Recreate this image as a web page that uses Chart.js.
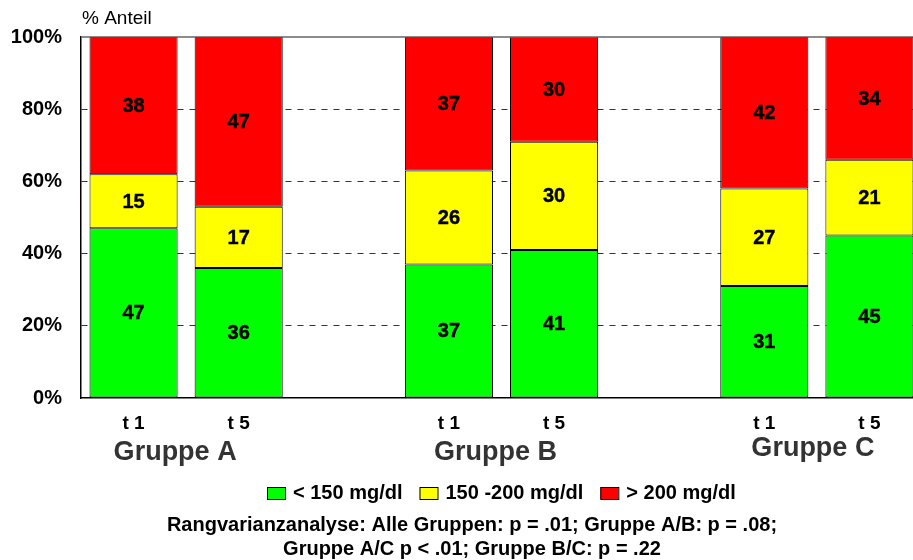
<!DOCTYPE html>
<html>
<head>
<meta charset="utf-8">
<script src="https://cdn.jsdelivr.net/npm/chart.js@4.4.1/dist/chart.umd.min.js"></script>
<style>
  html, body { margin: 0; padding: 0; background: #fff; overflow: hidden; }
  #wrap { width: 913px; height: 560px; position: relative; overflow: hidden; }
  #c { display: block; }
</style>
</head>
<body>
<div id="wrap"><canvas id="c" width="922" height="560"></canvas></div>
<script>
// Category slots: two time points per group, with an empty slot between groups
const timepoints = ['t 1', 't 5', '', 't 1', 't 5', '', 't 1', 't 5'];
const groups = ['Gruppe A', 'Gruppe B', 'Gruppe C'];
const groupSlots = [[0, 1], [3, 4], [6, 7]];
const seriesNames = ['< 150 mg/dl', '150 -200 mg/dl', '> 200 mg/dl'];
const below150 = [47, 36, null, 37, 41, null, 31, 45];
const from150to200 = [15, 17, null, 26, 30, null, 27, 21];
const above200 = [38, 47, null, 37, 30, null, 42, 34];
const yTicks = [0, 20, 40, 60, 80, 100];
const yTitle = '% Anteil';
const footnote = [
  'Rangvarianzanalyse: Alle Gruppen: p = .01; Gruppe A/B: p = .08;',
  'Gruppe A/C p < .01; Gruppe B/C: p = .22'
];

const FONT = "'Liberation Sans', Arial, Helvetica, sans-serif";
const colors = ['#00ff00', '#ffff00', '#ff0000'];
Chart.defaults.font.family = FONT;
Chart.defaults.color = '#000';

// Segment values written inside each bar
const valueLabels = {
  id: 'valueLabels',
  afterDatasetsDraw(chart) {
    const ctx = chart.ctx, ca = chart.chartArea;
    ctx.save();
    ctx.font = 'bold 20px ' + FONT;
    ctx.fillStyle = '#000';
    ctx.strokeStyle = '#000';
    ctx.lineWidth = 0.4;
    ctx.textAlign = 'center';
    ctx.textBaseline = 'middle';
    chart.data.datasets.forEach((ds, di) => {
      chart.getDatasetMeta(di).data.forEach((el, i) => {
        const v = ds.data[i];
        if (v == null) return;
        const top = Math.max(el.y, ca.top);
        const bot = Math.min(el.base, ca.bottom);
        const y = (top + bot) / 2 + 1;
        ctx.fillText(String(v), el.x, y);
        ctx.strokeText(String(v), el.x, y);
      });
    });
    ctx.restore();
  }
};

// Axis title, top frame line, group names, legend and footnote
const decorations = {
  id: 'decorations',
  afterDraw(chart) {
    const ctx = chart.ctx, ca = chart.chartArea, xs = chart.scales.x;
    ctx.save();

    // top frame line
    ctx.strokeStyle = '#666';
    ctx.lineWidth = 1.5;
    ctx.beginPath();
    ctx.moveTo(ca.left, ca.top);
    ctx.lineTo(ca.right, ca.top);
    ctx.stroke();

    // y axis title
    ctx.fillStyle = '#000';
    ctx.font = '19px ' + FONT;
    ctx.textAlign = 'left';
    ctx.textBaseline = 'middle';
    ctx.fillText(yTitle, 82, 19);

    // group names
    const shifts = [-11, -6, -4];
    const ys = [453, 453, 449];
    ctx.font = 'bold 27px ' + FONT;
    ctx.fillStyle = '#333';
    ctx.textAlign = 'center';
    groups.forEach((g, k) => {
      const [a, b] = groupSlots[k];
      const cx = (xs.getPixelForValue(a) + xs.getPixelForValue(b)) / 2 + shifts[k];
      ctx.fillText(g, cx, ys[k]);
    });

    // legend
    ctx.font = 'bold 20px ' + FONT;
    ctx.textAlign = 'left';
    const boxW = 18, boxH = 12, gapBox = 8, gapItem = 17;
    let x = 267;
    const ly = 493;
    chart.data.datasets.forEach(d => {
      ctx.fillStyle = d.backgroundColor;
      ctx.fillRect(x, ly - boxH / 2, boxW, boxH);
      ctx.strokeStyle = '#000';
      ctx.lineWidth = 1;
      ctx.strokeRect(x + 0.5, ly - boxH / 2 + 0.5, boxW, boxH);
      ctx.fillStyle = '#000';
      ctx.fillText(d.label, x + boxW + gapBox, ly);
      x += boxW + gapBox + ctx.measureText(d.label).width + gapItem;
    });

    // footnote
    ctx.textAlign = 'center';
    ctx.font = 'bold 20px ' + FONT;
    ctx.fillText(footnote[0], 472, 525);
    ctx.fillText(footnote[1], 472, 549);

    ctx.restore();
  }
};

new Chart(document.getElementById('c'), {
  type: 'bar',
  data: {
    labels: timepoints,
    datasets: [
      { label: seriesNames[0], data: below150, backgroundColor: colors[0] },
      { label: seriesNames[1], data: from150to200, backgroundColor: colors[1] },
      { label: seriesNames[2], data: above200, backgroundColor: colors[2] }
    ].map(d => Object.assign(d, {
      borderColor: '#000',
      borderWidth: 1,
      borderSkipped: false,
      barPercentage: 0.838,
      categoryPercentage: 1
    }))
  },
  options: {
    responsive: false,
    animation: false,
    devicePixelRatio: 1,
    layout: { padding: { top: 37, right: 0, left: 0, bottom: 0 } },
    plugins: {
      legend: { display: false },
      tooltip: { enabled: false },
      title: { display: false }
    },
    scales: {
      x: {
        stacked: true,
        grid: { display: false, drawTicks: false },
        border: { display: true, color: '#000', width: 1.5 },
        ticks: { font: { size: 19, weight: 'bold' }, color: '#000', padding: 14, maxRotation: 0, autoSkip: false },
        afterFit(scale) { scale.height = 162; }
      },
      y: {
        stacked: true,
        min: 0,
        max: 100,
        afterBuildTicks(scale) { scale.ticks = yTicks.map(v => ({ value: v })); },
        grid: {
          drawTicks: false,
          color: c => (c.tick && (c.tick.value === 0 || c.tick.value === 100)) ? 'rgba(0,0,0,0)' : '#333',
          lineWidth: 1
        },
        border: { display: true, color: '#000', width: 1.5, dash: [6, 6] },
        ticks: {
          font: { size: 20, weight: 'bold' },
          color: '#000',
          padding: 19,
          callback: v => v + '%'
        },
        afterFit(scale) { scale.width = 81; }
      }
    }
  },
  plugins: [valueLabels, decorations]
});
</script>
</body>
</html>
